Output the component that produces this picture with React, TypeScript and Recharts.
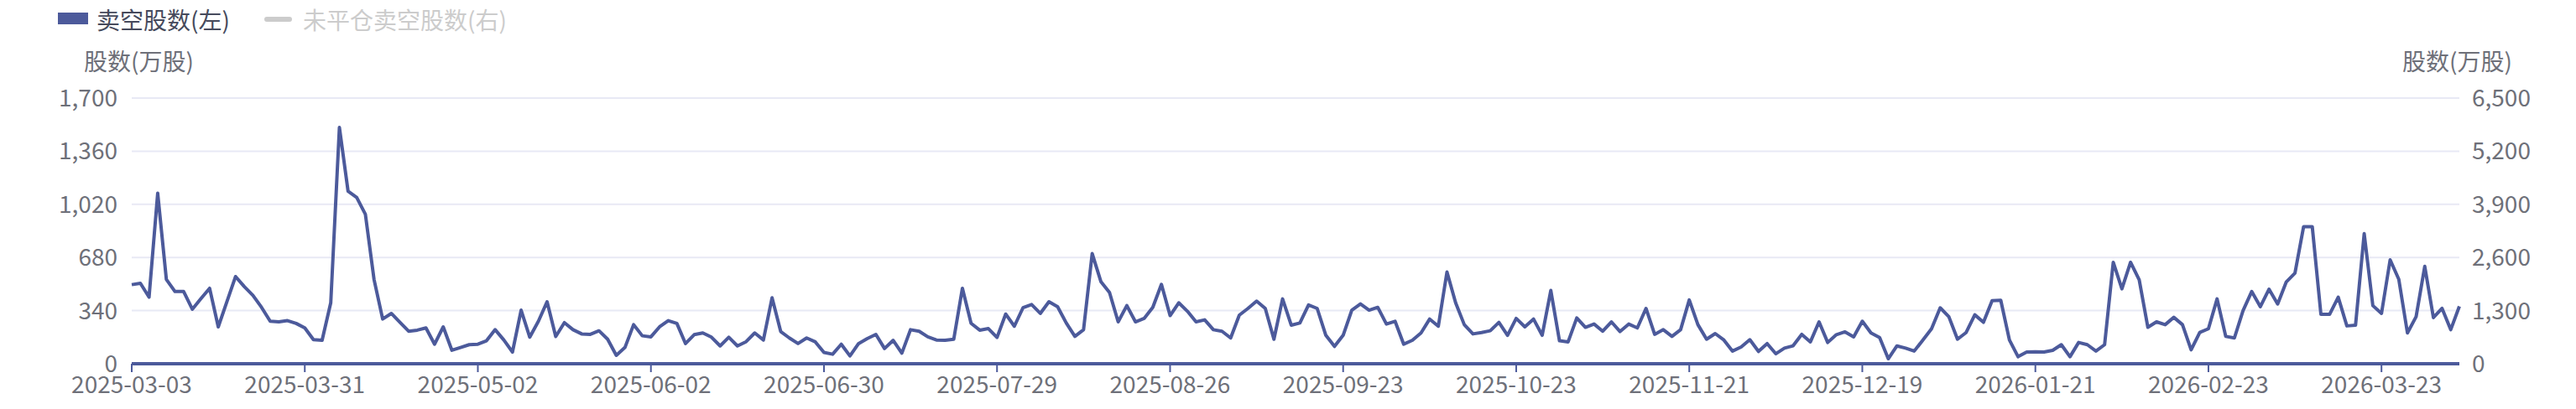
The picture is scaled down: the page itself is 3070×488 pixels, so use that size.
import React from 'react';
import { LineChart, Line, XAxis, YAxis, CartesianGrid } from 'recharts';

document.body.style.margin = '0';

// trading calendar (HK), first day and market holidays inside the range
const START_DATE = '2025-03-03';
const HOLIDAYS = [
  '2025-04-04', '2025-04-18', '2025-04-21', '2025-05-01', '2025-05-05',
  '2025-07-01', '2025-10-01', '2025-10-07', '2025-10-29', '2025-12-25',
  '2025-12-26', '2026-01-01', '2026-02-17', '2026-02-18', '2026-02-19',
  '2026-04-03', '2026-04-06', '2026-04-07',
];

// 卖空股数 (万股)
const SHORT_MAR_MAY = [
  506, 515, 426, 1091, 540, 462, 462, 349, 417, 483, 236, 397, 558, 494, 438, 361, 272, 268, 276, 258,
  229, 154, 150, 390, 1512, 1104, 1064, 957, 540, 286, 322, 265, 208, 215, 229, 125, 236, 86, 104, 122,
];
const SHORT_MAY_JUL = [
  125, 147, 218, 152, 75, 343, 170, 272, 397, 174, 263, 218, 191, 188, 211, 157, 54, 104, 250, 179,
  172, 236, 276, 258, 129, 186, 197, 170, 114, 170, 114, 141, 197, 152, 422, 206, 165, 129, 165, 140,
  72, 61, 125, 50, 129, 161, 188, 97, 150, 68, 218, 208, 172, 152, 150, 157, 483, 259, 215, 225,
];
const SHORT_JUL_OCT = [
  168, 318, 240, 358, 379, 322, 397, 365, 261, 175, 218, 705, 526, 456, 268, 372, 268, 290, 361, 508,
  308, 390, 336, 268, 281, 218, 208, 165, 311, 354, 401, 354, 157, 415, 247, 261, 376, 354, 182, 111,
  182, 343, 383, 343, 361, 254, 272, 125, 150, 197, 286, 240, 587, 390, 250, 191, 200, 211, 265, 182,
];
const SHORT_OCT_JAN = [
  290, 236, 286, 182, 469, 147, 140, 293, 233, 254, 208, 268, 206, 254, 229, 354, 188, 218, 175, 218,
  408, 250, 157, 193, 152, 81, 107, 154, 79, 129, 64, 100, 115, 188, 140, 268, 136, 186, 204, 172,
  272, 197, 168, 32, 114, 100, 81, 152, 224, 358, 301, 157, 200, 313, 265, 403, 406, 152, 45, 75,
];
const SHORT_JAN_APR = [
  77, 75, 86, 122, 45, 136, 122, 81, 122, 649, 479, 649, 537, 233, 268, 250, 297, 250, 89, 200,
  224, 415, 175, 165, 340, 462, 365, 477, 382, 524, 580, 877, 877, 316, 316, 426, 242, 247, 832, 372,
  322, 665, 540, 197, 301, 623, 295, 354, 218, 367,
];

const LEFT_TICKS = [0, 340, 680, 1020, 1360, 1700];
const RIGHT_TICKS = [0, 1300, 2600, 3900, 5200, 6500];

const SHORT_VOLUME = [
  ...SHORT_MAR_MAY, ...SHORT_MAY_JUL, ...SHORT_JUL_OCT, ...SHORT_OCT_JAN, ...SHORT_JAN_APR,
];

function tradingDays(start: string, count: number, holidays: string[]) {
  const out: string[] = [];
  const d = new Date(start + 'T00:00:00Z');
  while (out.length < count) {
    const s = d.toISOString().slice(0, 10);
    const wd = d.getUTCDay();
    if (wd !== 0 && wd !== 6 && !holidays.includes(s)) out.push(s);
    d.setUTCDate(d.getUTCDate() + 1);
  }
  return out;
}

const DATES = tradingDays(START_DATE, SHORT_VOLUME.length, HOLIDAYS);
const data = DATES.map((date, i) => ({ date, short: SHORT_VOLUME[i] }));

const FONT = "'Noto Sans CJK SC', 'Noto Sans', sans-serif";
const LINE_COLOR = '#4c5a9b';
const AXIS_TEXT = '#6e7079';
const fmt = (v: number) => v.toLocaleString('en-US');

const textBase: React.CSSProperties = {
  position: 'absolute',
  fontFamily: FONT,
  fontSize: 28,
  lineHeight: '28px',
  whiteSpace: 'nowrap',
};

export default function App() {
  return (
    <div style={{ position: 'relative', width: 3070, height: 488, background: '#fff', fontFamily: FONT }}>
      {/* legend */}
      <div style={{ position: 'absolute', left: 69, top: 15, width: 36, height: 14, background: LINE_COLOR }} />
      <div style={{ ...textBase, left: 115, top: 9, color: '#464a5c' }}>卖空股数(左)</div>
      <div style={{ position: 'absolute', left: 315, top: 20, width: 33, height: 6, borderRadius: 3, background: '#ccc' }} />
      <div style={{ ...textBase, left: 361, top: 9, color: '#ccc' }}>未平仓卖空股数(右)</div>

      {/* axis names */}
      <div style={{ ...textBase, left: 100, top: 58, color: AXIS_TEXT }}>股数(万股)</div>
      <div style={{ ...textBase, left: 2863, top: 58, color: AXIS_TEXT }}>股数(万股)</div>

      <div style={{ position: 'absolute', left: 0, top: 0 }}>
        <LineChart width={3070} height={488} data={data} margin={{ top: 117, right: 0, bottom: 0, left: 0 }}>
          <CartesianGrid yAxisId="left" vertical={false} stroke="#e8e9f5" strokeWidth={2} />
          <XAxis
            dataKey="date"
            height={54}
            interval={19}
            tickSize={10}
            tickMargin={5}
            axisLine={{ stroke: LINE_COLOR, strokeWidth: 4 }}
            tickLine={{ stroke: LINE_COLOR, strokeWidth: 2 }}
            tick={{ fill: AXIS_TEXT, fontSize: 28, fontFamily: FONT }}
          />
          <YAxis
            yAxisId="left"
            width={157}
            domain={[0, 1700]}
            ticks={LEFT_TICKS}
            allowDataOverflow
            tickFormatter={fmt}
            axisLine={false}
            tickLine={false}
            tickSize={0}
            tickMargin={17}
            tick={{ fill: AXIS_TEXT, fontSize: 28, fontFamily: FONT }}
          />
          <YAxis
            yAxisId="right"
            orientation="right"
            width={139}
            domain={[0, 6500]}
            ticks={RIGHT_TICKS}
            allowDataOverflow
            tickFormatter={fmt}
            axisLine={false}
            tickLine={false}
            tickSize={0}
            tickMargin={15}
            tick={{ fill: AXIS_TEXT, fontSize: 28, fontFamily: FONT }}
          />
          <Line
            yAxisId="left"
            type="linear"
            dataKey="short"
            stroke={LINE_COLOR}
            strokeWidth={4}
            strokeLinejoin="round"
            dot={false}
            isAnimationActive={false}
          />
        </LineChart>
      </div>
    </div>
  );
}
